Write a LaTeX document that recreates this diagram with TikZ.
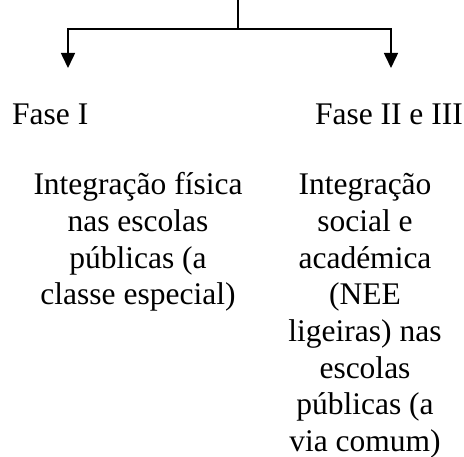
\documentclass[tikz,border=0pt]{standalone}
\usepackage{fontspec}
\setmainfont{Liberation Serif}
\usetikzlibrary{arrows.meta}
\begin{document}
\begin{tikzpicture}[x=1pt,y=1pt,
  conn/.style={line width=1.6pt},
  arr/.style={conn,-{Triangle[width=14pt,length=15pt]}},
  lbl/.style={inner sep=0pt,font=\fontsize{31.5}{36.7}\selectfont},
  blk/.style={lbl,align=center}]
\useasboundingbox (0,0) rectangle (464,457);
\coordinate (top) at (238,458);
\coordinate (j) at (238,428);
\coordinate (a1) at (68,389);
\coordinate (a2) at (391,389);
\draw[conn] (top) -- (j);
\draw[arr] (j) -| (a1);
\draw[arr] (j) -| (a2);
\node[lbl,anchor=base west] (f1) at (12,332) {Fase I};
\node[lbl,anchor=base east] (f2) at (463,332) {Fase II e III};
\node[blk,anchor=base] (b1) at (138,152) {Integração física\\nas escolas\\públicas (a\\classe especial)};
\node[blk,anchor=base] (b2) at (365,5.3) {Integração\\social e\\académica\\(NEE\\ligeiras) nas\\escolas\\públicas (a\\via comum)};
\end{tikzpicture}
\end{document}
